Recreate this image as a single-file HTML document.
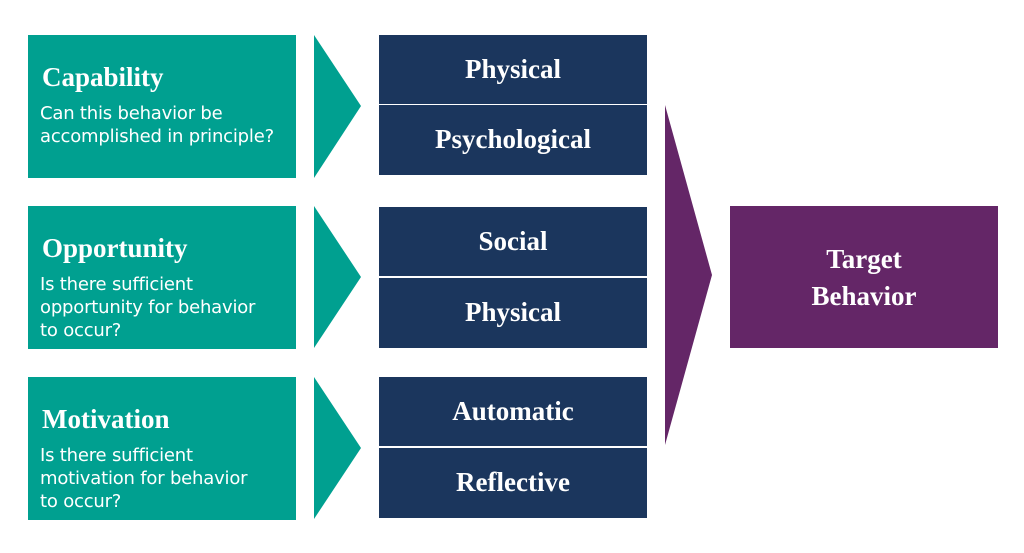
<!DOCTYPE html>
<html><head><style>
body{margin:0;width:1024px;height:553px;background:#fff;position:relative;overflow:hidden}
.t{position:absolute;left:28px;width:268px;height:143px;background:#00a090;color:#fff}
.t h{position:absolute;left:14px;top:27px;font:600 27px "Liberation Serif",serif;display:block}
.t p{position:absolute;left:12px;top:67px;margin:0;font:18px/23px "DejaVu Sans","Liberation Sans",sans-serif;letter-spacing:-0.2px}
.n{position:absolute;left:379px;width:268px;height:69px;background:#1b365d;color:#fff;font:600 27px "Liberation Serif",serif;text-align:center;line-height:68px}
.p{position:absolute;left:730px;top:206px;width:268px;height:142px;background:#642667;color:#fff;font:600 27px/37px "Liberation Serif",serif;text-align:center;box-sizing:border-box;padding-top:35px}
svg{position:absolute;left:0;top:0}
</style></head><body>
<svg width="1024" height="553">
<polygon points="314,35 361,106 314,178" fill="#00a090"/>
<polygon points="314,206 361,277 314,348" fill="#00a090"/>
<polygon points="314,377 361,448 314,519" fill="#00a090"/>
<polygon points="665,105 712,275 665,445" fill="#642667"/>
</svg>
<div class="t" style="top:35px"><h>Capability</h><p>Can this behavior be<br>accomplished in principle?</p></div>
<div class="t" style="top:206px"><h>Opportunity</h><p>Is there sufficient<br>opportunity for behavior<br>to occur?</p></div>
<div class="t" style="top:377px"><h>Motivation</h><p>Is there sufficient<br>motivation for behavior<br>to occur?</p></div>
<div class="n" style="top:35px">Physical</div>
<div class="n" style="top:105px;height:70px">Psychological</div>
<div class="n" style="top:207px">Social</div>
<div class="n" style="top:278px;height:70px">Physical</div>
<div class="n" style="top:377px">Automatic</div>
<div class="n" style="top:448px;height:70px">Reflective</div>
<div class="p">Target<br>Behavior</div>
</body></html>
